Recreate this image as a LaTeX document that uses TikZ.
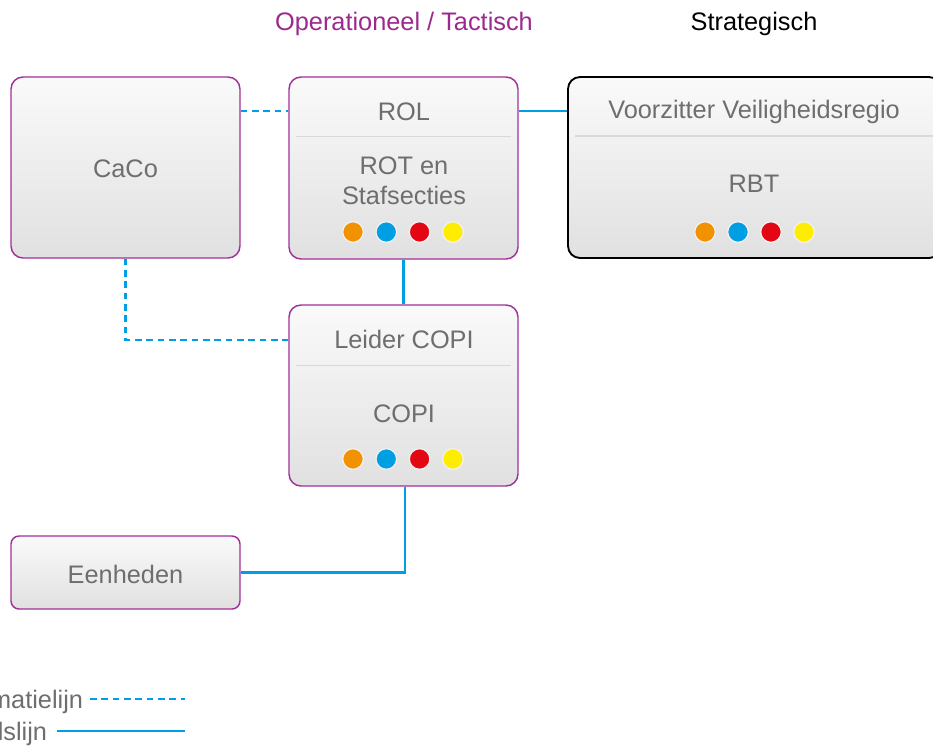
\documentclass[tikz,border=0pt]{standalone}
\usepackage{fontspec}
\setmainfont{Liberation Sans}
\usetikzlibrary{calc,positioning}
\definecolor{paars}{HTML}{A2309A}
\definecolor{kopkleur}{HTML}{9C2A8E}
\definecolor{lijnblauw}{HTML}{009FE3}
\definecolor{tekstgrijs}{HTML}{6E6E6E}
\definecolor{deeloranje}{HTML}{F39200}
\definecolor{deelrood}{HTML}{E30613}
\definecolor{deelgeel}{HTML}{FFED00}
\tikzset{
  blok/.style = {
    draw=paars,
    line width=1.1pt,
    rounded corners=9pt,
    top color=black!2,
    bottom color=black!12,
    inner sep=0pt
  },
  tekst/.style = {
    text=tekstgrijs,
    font=\fontsize{19}{22.5}\selectfont,
    align=center
  },
  kop/.style = {
    font=\fontsize{19}{22.5}\selectfont
  },
  scheiding/.style = {
    draw=black!15,
    line width=1pt
  },
  stip/.style = {
    circle,
    draw=black!6,
    line width=1pt,
    minimum size=15.5pt,
    inner sep=0pt
  },
  info/.style = {
    draw=lijnblauw,
    line width=1.7pt,
    dash pattern=on 5pt off 3.5pt
  },
  bevel/.style = {
    draw=lijnblauw,
    line width=1.7pt
  }
}

\begin{document}
\begin{tikzpicture}[x=0.75pt,y=-0.75pt]
	\clip (0,0) rectangle (933,747);
	% kolomkoppen
	\node[kop, text=kopkleur] (opkop) at (404,24) {Operationeel / Tactisch};
	\node[kop] (stratkop) at (754,24) {Strategisch};
	% blokken
	\node[blok, minimum width=171.75pt, minimum height=135.75pt] (caco) at (125.5,167.5) {};
	\node[tekst] (cacotxt) at (125.5,168.5) {CaCo};
	
	\node[blok, minimum width=171.75pt, minimum height=136.5pt] (rol) at (403.5,168) {};
	\node[tekst] (rolkop) at (404,112) {ROL};
	\draw[scheiding] ($(rol.north west)+(8,60)$) -- ($(rol.north east)+(-8,60)$);
	\node[tekst] (rot) at (404,181) {ROT en\\Stafsecties};
	
	\node[blok, draw=black, line width=1.4pt, minimum width=279.75pt, minimum height=135.75pt] (vr) at (754.5,167.5) {};
	\node[tekst] (vrkop) at (754,112) {Voorzitter Veiligheidsregio};
	\draw[scheiding] ($(vr.north west)+(8,60)$) -- ($(vr.north east)+(-8,60)$);
	\node[tekst] (rbt) at (754,184) {RBT};
	
	\node[blok, minimum width=171.75pt, minimum height=135.75pt] (copi) at (403.5,395.5) {};
	\node[tekst] (copikop) at (404,339) {Leider COPI};
	\draw[scheiding] ($(copi.north west)+(8,61)$) -- ($(copi.north east)+(-8,61)$);
	\node[tekst] (copitxt) at (404,414) {COPI};
	
	\node[blok, rounded corners=6pt, minimum width=171.75pt, minimum height=54.75pt] (eenheden) at (125.5,572.5) {};
	\node[tekst] (eenhedentxt) at (125.5,574) {Eenheden};
	% disciplines
	\foreach \kl [count=\i] in {deeloranje,lijnblauw,deelrood,deelgeel} {
		\node[stip, fill=\kl] (rolstip\i) at ($(353,232)+(\i*33.3-33.3,0)$) {};
		\node[stip, fill=\kl] (vrstip\i) at ($(705,232)+(\i*33-33,0)$) {};
		\node[stip, fill=\kl] (copistip\i) at ($(353,459)+(\i*33.3-33.3,0)$) {};
	}
	% lijnen
	\draw[info] ($(rolkop -| caco.east)+(0,-1)$) -- ($(rolkop -| rol.west)+(0,-1)$);
	\draw[bevel] ($(rolkop -| rol.east)+(0,-1)$) -- ($(rolkop -| vr.west)+(0,-1)$);
	\draw[bevel] (rol.south) -- (copi.north);
	\draw[info] (caco.south) |- ($(copikop -| copi.west)+(0,1)$);
	\draw[bevel] ($(copi.south)+(1.5,0)$) |- (eenheden.east);
	% legenda
	\node[tekst, anchor=east, inner sep=2pt] (infolabel) at (86,702) {Informatielijn};
	\coordinate (infoeind) at (185,699);
	\draw[info, shorten <=3pt] (infolabel.east |- infoeind) -- (infoeind);
	\node[tekst, anchor=east, inner sep=2pt] (bevellabel) at (50,734) {Bevelslijn};
	\coordinate (beveleind) at (185,731);
	\draw[bevel, shorten <=5pt] (bevellabel.east |- beveleind) -- (beveleind);
\end{tikzpicture}
\end{document}
